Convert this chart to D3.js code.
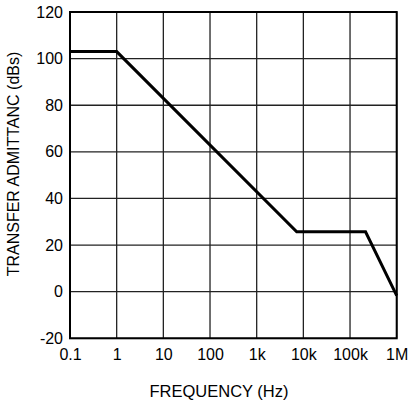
<!DOCTYPE html>
<html>
<head>
<meta charset="utf-8"/>
<script src="https://cdn.jsdelivr.net/npm/d3@7/dist/d3.min.js"></script>
<style>
  html,body { margin:0; padding:0; background:#fff; overflow:hidden; }
  svg { display:block; font-family:"Liberation Sans", Arial, sans-serif; }
</style>
</head>
<body>
<svg width="408" height="402"></svg>
<script>
// data
const freqTicks  = [0.1, 1, 10, 100, 1e3, 1e4, 1e5, 1e6];
const freqLabels = ["0.1", "1", "10", "100", "1k", "10k", "100k", "1M"];
const dbTicks    = [-20, 0, 20, 40, 60, 80, 100, 120];
const curveFreq  = [0.1, 1, 7200, 215000, 1e6];
const curveDb    = [103, 103, 25.7, 25.7, -1.7];

const svg = d3.select("svg");
const L = 70, R = 396.7, T = 12, B = 338.3;

const x = d3.scaleLog().domain([0.1, 1e6]).range([L, R]);
const y = d3.scaleLinear().domain([-20, 120]).range([B, T]);

// grid
const g = svg.append("g");
g.selectAll("line.vx").data(freqTicks).join("line")
  .attr("x1", d => x(d)).attr("x2", d => x(d))
  .attr("y1", T).attr("y2", B)
  .attr("stroke", "#222").attr("stroke-width", 1.3);
g.selectAll("line.hy").data(dbTicks).join("line")
  .attr("x1", L).attr("x2", R)
  .attr("y1", d => y(d)).attr("y2", d => y(d))
  .attr("stroke", "#222").attr("stroke-width", 1.3);

// frame
svg.append("rect")
  .attr("x", L).attr("y", T).attr("width", R - L).attr("height", B - T)
  .attr("fill", "none").attr("stroke", "#000").attr("stroke-width", 2);

// tick labels only, no tick marks
const xAxis = d3.axisBottom(x).tickValues(freqTicks)
  .tickFormat((d, i) => freqLabels[i]).tickSize(0).tickPadding(10);
svg.append("g").attr("transform", `translate(0,${B})`).call(xAxis)
  .call(a => a.select(".domain").remove())
  .selectAll("text").attr("font-size", 16).attr("fill", "#000")
  .attr("font-family", "Liberation Sans, Arial, sans-serif");

const yAxis = d3.axisLeft(y).tickValues(dbTicks)
  .tickFormat(d => String(d)).tickSize(0).tickPadding(7);
svg.append("g").attr("transform", `translate(${L},0)`).call(yAxis)
  .call(a => a.select(".domain").remove())
  .selectAll("text").attr("font-size", 16).attr("fill", "#000")
  .attr("font-family", "Liberation Sans, Arial, sans-serif");

// curve
const pts = curveFreq.map((f, i) => [f, curveDb[i]]);
svg.append("path")
  .datum(pts)
  .attr("d", d3.line().x(d => x(d[0])).y(d => y(d[1])))
  .attr("fill", "none").attr("stroke", "#000").attr("stroke-width", 3)
  .attr("stroke-linejoin", "miter");

// titles
svg.append("text")
  .attr("x", 219).attr("y", 397)
  .attr("text-anchor", "middle").attr("font-size", 16.5)
  .text("FREQUENCY (Hz)");
svg.append("text")
  .attr("transform", "translate(18.5,164) rotate(-90)")
  .attr("text-anchor", "middle").attr("font-size", 16)
  .text("TRANSFER ADMITTANC (dBs)");
</script>
</body>
</html>
